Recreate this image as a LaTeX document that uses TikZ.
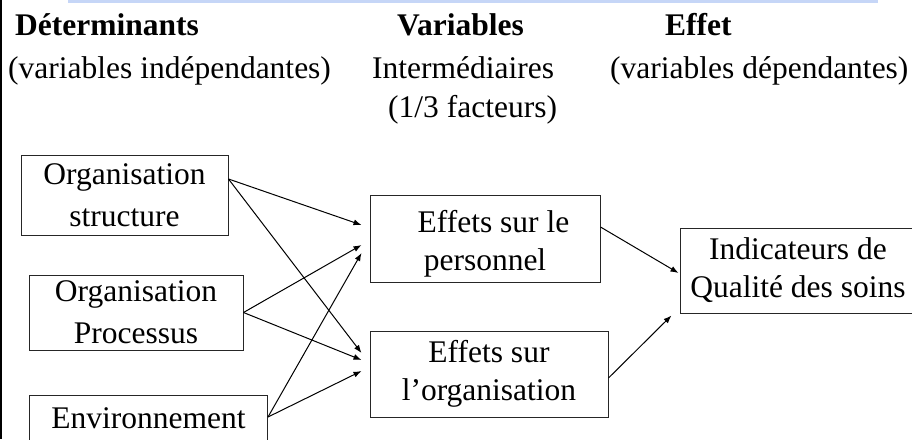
\documentclass[tikz,border=0pt]{standalone}
\usepackage{fontspec}
\setmainfont{Liberation Serif}
\usetikzlibrary{arrows.meta,calc}
\definecolor{barblue}{RGB}{198,214,247}
\begin{document}
\begin{tikzpicture}[x=1pt,y=-1pt,
  box/.style={draw=black!85,line width=1pt,inner sep=0pt,align=center,font=\fontsize{31.5}{42}\selectfont},
  rbox/.style={box,font=\fontsize{31.5}{38}\selectfont},
  hdr/.style={anchor=base west,inner sep=0pt,font=\fontsize{31.5}{38}\selectfont},
  hdrb/.style={hdr,font=\fontsize{31.5}{38}\selectfont\bfseries},
  arr/.style={-{Latex[length=8pt,width=6pt]},line width=1pt}]
\useasboundingbox (0,0) rectangle (912,439);
\clip (0,0) rectangle (912,439);
\fill[barblue] (68,0) rectangle (878,3);
\draw[line width=1.5pt] (0.75,0) -- (0.75,439);
% headers
\node[hdrb] (hdet) at (15,35) {Déterminants};
\node[hdrb] (hvar) at (397,35) {Variables};
\node[hdrb] (heff) at (665,35) {Effet};
\node[hdr] (sind) at (8,78) {(variables indépendantes)};
\node[hdr] (sint) at (372,78) {Intermédiaires};
\node[hdr] (sdep) at (610,78) {(variables dépendantes)};
\node[hdr] (sfac) at (388,117) {(1/3 facteurs)};
% boxes
\node[box,minimum width=207pt,minimum height=80pt] (b1) at (124.5,195) {Organisation\\structure};
\node[box,minimum width=214pt,minimum height=75pt] (b2) at (136,312.5) {Organisation\\Processus};
\node[box,anchor=north west,minimum width=238pt,text height=33pt,text depth=52pt] (b3) at (29,395) {Environnement};
\node[rbox,minimum width=230pt,minimum height=87pt] (b4) at (485,238.5) {\hspace*{17pt}\rule{0pt}{32pt}Effets sur le\\personnel};
\node[rbox,minimum width=238pt,minimum height=86pt] (b5) at (489,374) {Effets sur\\l’organisation};
\node[rbox,minimum width=236pt,minimum height=85pt] (b6) at (798,270.5) {Indicateurs de\\Qualité des soins};
% arrows
\draw[arr] ($(b1.east)+(0,-16)$) -- ($(b4.west)+(-8,-13.5)$);
\draw[arr] ($(b1.east)+(0,-16)$) -- ($(b5.west)+(-8,-21)$);
\draw[arr] (b2.east) -- ($(b4.west)+(-8,6.5)$);
\draw[arr] (b2.east) -- ($(b5.west)+(-8,-14)$);
\draw[arr] ($(b3.north east)+(0,22)$) -- ($(b4.west)+(-8,14.5)$);
\draw[arr] ($(b3.north east)+(0,22)$) -- ($(b5.west)+(-8,-3)$);
\draw[arr] ($(b4.east)+(0,-11.5)$) -- ($(b6.west)+(-1,2.5)$);
\draw[arr] ($(b5.east)+(0,4)$) -- ($(b6.south west)+(-8,2)$);
\end{tikzpicture}
\end{document}
